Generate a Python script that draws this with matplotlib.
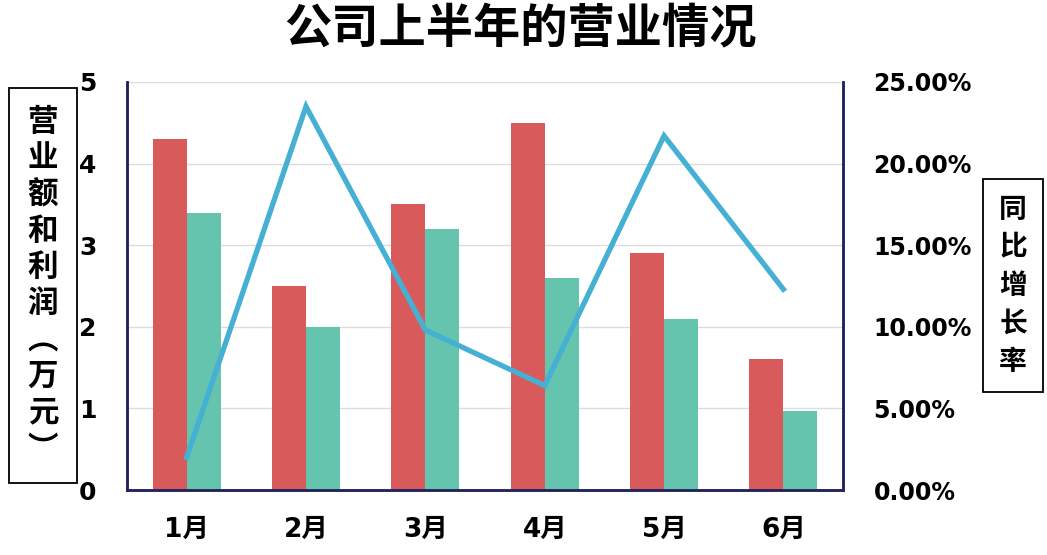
import matplotlib
matplotlib.use("Agg")
import matplotlib.pyplot as plt
import numpy as np
from matplotlib.ticker import PercentFormatter, MultipleLocator

plt.rcParams['font.family'] = ['DejaVu Sans', 'Noto Sans CJK SC']

# data
months = ['1月', '2月', '3月', '4月', '5月', '6月']
revenue = [4.3, 2.5, 3.5, 4.5, 2.9, 1.6]
profit = [3.4, 2.0, 3.2, 2.6, 2.1, 0.97]
growth = [2.0, 23.5, 9.8, 6.4, 21.7, 12.3]  # percent

title = '公司上半年的营业情况'
left_label = '营业额和利润︵万元︶'
right_label = '同比增长率'

red = '#d95a5b'
teal = '#65c4ad'
blue = '#46b0d4'
navy = '#22235e'

fig = plt.figure(figsize=(10.47, 5.55), dpi=100)
ax = fig.add_axes([0.1213, 0.1171, 0.6839, 0.7352])
ax2 = ax.twinx()

x = np.arange(len(months))
w = 0.285
ax.bar(x - w / 2, revenue, w, color=red, zorder=2)
ax.bar(x + w / 2, profit, w, color=teal, zorder=2)
ax2.plot(x, growth, color=blue, lw=3.8, solid_joinstyle='miter', zorder=3)

ax.set_xlim(-0.5, len(months) - 0.5)
ax.set_ylim(0, 5)
ax2.set_ylim(0, 25)
ax.yaxis.set_major_locator(MultipleLocator(1))
ax2.yaxis.set_major_locator(MultipleLocator(5))
ax2.yaxis.set_major_formatter(PercentFormatter(decimals=2))

ax.grid(axis='y', color='#dcdcdc', lw=1, zorder=0)
ax.set_axisbelow(True)

ax.set_xticks(x)
ax.set_xticklabels(months)
for a in (ax, ax2):
    a.spines['top'].set_visible(False)
    for s in ('left', 'right', 'bottom'):
        a.spines[s].set_color(navy)
        a.spines[s].set_linewidth(1.8)
    a.tick_params(length=0, labelsize=17)
ax.tick_params(axis='y', pad=22, labelsize=18)
ax.tick_params(axis='x', pad=19, labelsize=19)
ax2.tick_params(axis='y', pad=22)
for lbl in ax.get_xticklabels() + ax.get_yticklabels() + ax2.get_yticklabels():
    lbl.set_fontweight('bold')

fig.text(0.497, 0.947, title, ha='center', va='center', fontsize=34,
         fontweight='bold', family=['Noto Sans CJK SC'])

fig.text(0.041, 0.486, '\n'.join(left_label), ha='center', va='center',
         fontsize=22, fontweight='bold', linespacing=1.17,
         family=['Noto Sans CJK SC'],
         bbox=dict(boxstyle='square,pad=0.6', fc='white', ec='black', lw=1.3))
fig.text(0.9675, 0.485, '\n'.join(right_label), ha='center', va='center',
         fontsize=20, fontweight='bold', linespacing=1.46,
         family=['Noto Sans CJK SC'],
         bbox=dict(boxstyle='square,pad=0.58', fc='white', ec='black', lw=1.3))

fig.savefig('out.png', dpi=100)
